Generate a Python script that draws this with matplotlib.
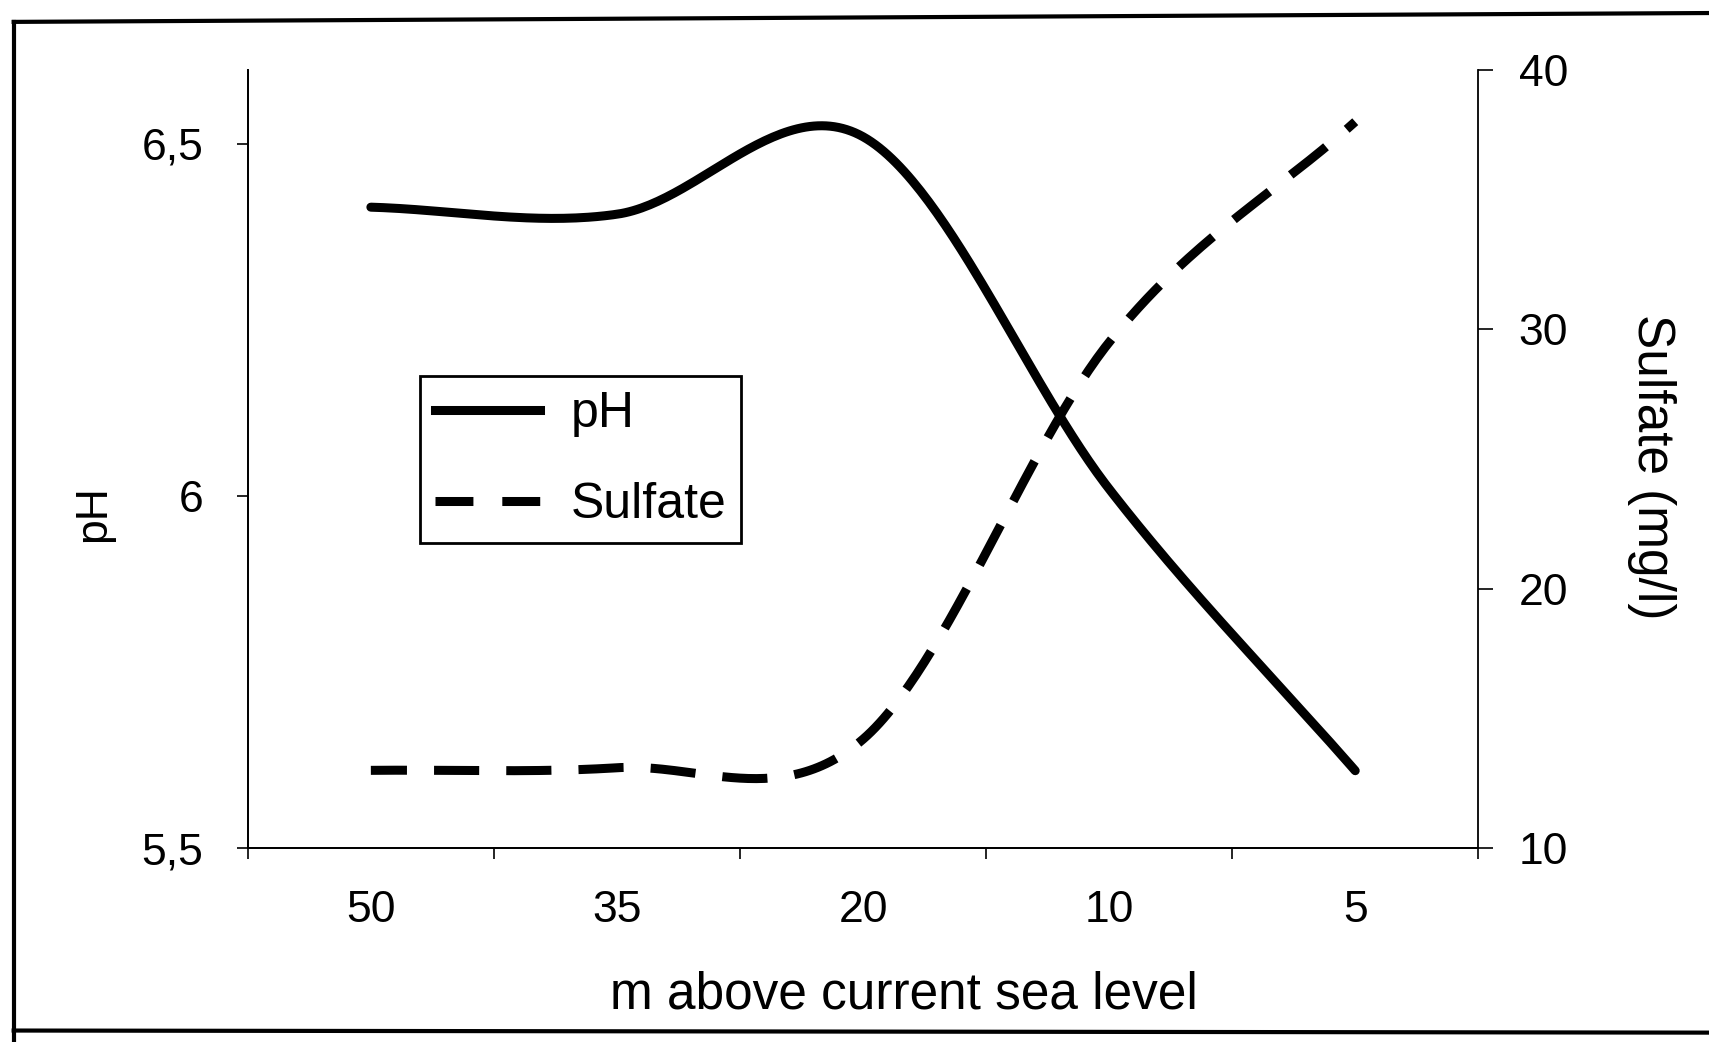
import numpy as np
import matplotlib
matplotlib.use("Agg")
import matplotlib.pyplot as plt
from matplotlib.lines import Line2D
from matplotlib.ticker import FuncFormatter

# values
heights = ["50", "35", "20", "10", "5"]
ph = [6.41, 6.40, 6.51, 6.01, 5.61]
sulfate = [13.0, 13.1, 14.2, 29.5, 38.0]

ph_ticks = [5.5, 6.0, 6.5]
sulfate_ticks = [10, 20, 30, 40]


def smooth(ys, n=60):
    """Catmull-Rom curve through the points, like a smoothed spreadsheet line."""
    ys = np.asarray(ys, dtype=float)
    p = np.concatenate([[2 * ys[0] - ys[1]], ys, [2 * ys[-1] - ys[-2]]])
    xs_out, ys_out = [], []
    for i in range(len(ys) - 1):
        p0, p1, p2, p3 = p[i], p[i + 1], p[i + 2], p[i + 3]
        m1 = (p2 - p0) / 2
        m2 = (p3 - p1) / 2
        t = np.linspace(0, 1, n, endpoint=(i == len(ys) - 2))
        h00 = 2 * t**3 - 3 * t**2 + 1
        h10 = t**3 - 2 * t**2 + t
        h01 = -2 * t**3 + 3 * t**2
        h11 = t**3 - t**2
        xs_out.append(i + t)
        ys_out.append(h00 * p1 + h10 * m1 + h01 * p2 + h11 * m2)
    return np.concatenate(xs_out), np.concatenate(ys_out)


plt.rcParams["font.family"] = ["Liberation Sans", "DejaVu Sans"]
plt.rcParams["font.size"] = 32

fig = plt.figure(figsize=(17.09, 10.42), dpi=100)
ax = fig.add_axes([0.145, 0.186, 0.72, 0.747])
ax2 = ax.twinx()

x_ph, y_ph = smooth(ph)
x_su, y_su = smooth(sulfate)
lw = 6.5
l1, = ax.plot(x_ph, y_ph, color="black", lw=lw, solid_capstyle="round", label="pH")
l2, = ax2.plot(x_su, y_su, color="black", lw=lw, linestyle=(1.0, (5.0, 3.0)),
               dash_capstyle="butt", label="Sulfate")

ax.set_xlim(-0.5, len(heights) - 0.5)
ax.set_ylim(5.5, 6.605)
ax2.set_ylim(10, 40)

comma = FuncFormatter(lambda v, pos: f"{v:g}".replace(".", ","))
ax.set_yticks(ph_ticks)
ax.yaxis.set_major_formatter(comma)
ax2.set_yticks(sulfate_ticks)

ax.set_xticks(range(len(heights)))
ax.set_xticklabels(heights)
ax.set_xticks(np.arange(-0.5, len(heights), 1.0), minor=True)
ax.tick_params(axis="x", which="major", length=0, pad=30)
ax.tick_params(axis="x", which="minor", length=8, width=1.2, direction="out")
ax.tick_params(axis="y", length=8, width=1.2, direction="out", pad=24)
ax2.tick_params(axis="y", length=11, width=1.2, direction="out", pad=18)

for a in (ax, ax2):
    a.spines["top"].set_visible(False)
    for s in ("left", "right", "bottom"):
        a.spines[s].set_linewidth(1.3)
ax.spines["right"].set_visible(False)

ax.set_xlabel("m above current sea level", fontsize=37)
ax.xaxis.set_label_coords(0.533, -0.157)
ax.set_ylabel("pH", fontsize=32)
ax.yaxis.set_label_coords(-0.109, 0.43)
ax2.set_ylabel("Sulfate (mg/l)", rotation=270, fontsize=37)
ax2.yaxis.set_label_coords(1.161, 0.49)

leg_handles = [Line2D([], [], color="black", lw=lw),
               Line2D([], [], color="black", lw=lw, linestyle=(0, (4.2, 3.2)))]
leg = fig.legend(leg_handles, ["pH", "Sulfate"], loc="upper left",
                 bbox_to_anchor=(0.246, 0.639),
                 frameon=True, fancybox=False, edgecolor="black", framealpha=1,
                 fontsize=36, handlelength=2.1, handletextpad=0.6, labelspacing=0.9,
                 borderpad=0.3, borderaxespad=0)
leg.get_frame().set_linewidth(2)

# borders of the scanned page
fig.add_artist(Line2D([0.008, 1.0], [0.979, 0.9875], color="black", lw=3))
fig.add_artist(Line2D([0.008, 0.008], [0.0, 0.979], color="black", lw=3))
fig.add_artist(Line2D([0.008, 1.0], [0.011, 0.009], color="black", lw=3))

fig.savefig("out.png", dpi=100)
